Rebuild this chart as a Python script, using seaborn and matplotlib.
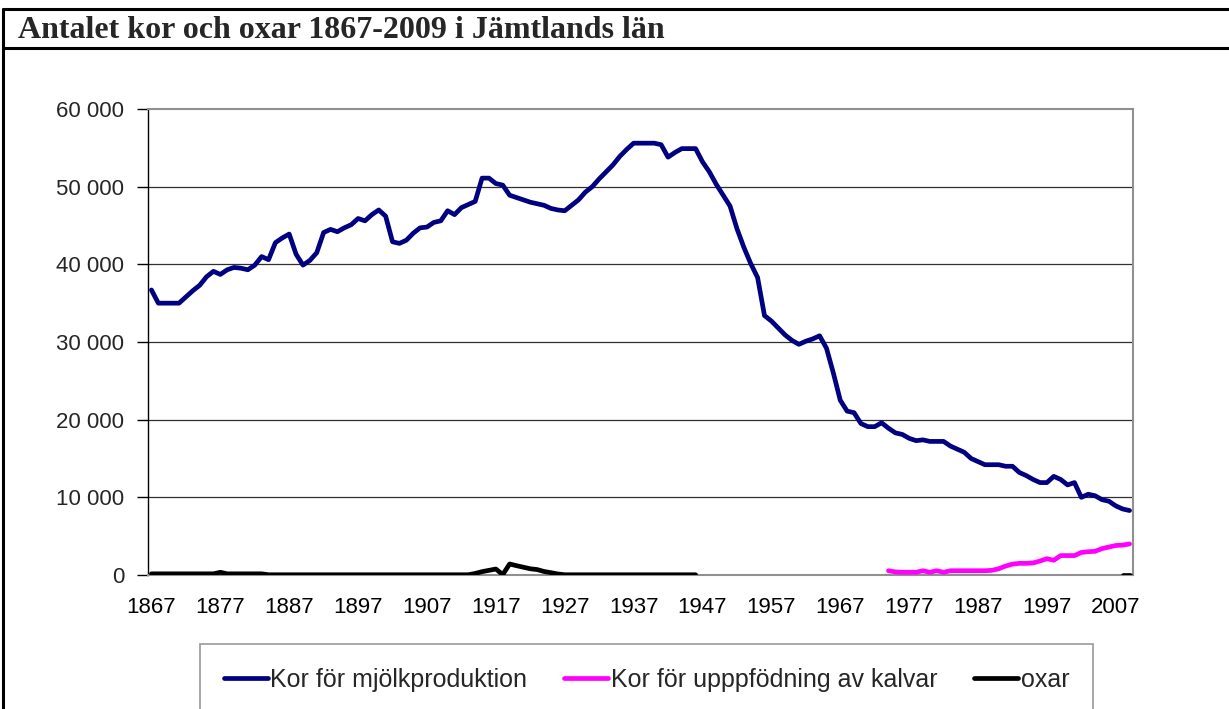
import numpy as np
import pandas as pd
import matplotlib
matplotlib.use("Agg")
import matplotlib.pyplot as plt
from matplotlib.lines import Line2D
from matplotlib.ticker import FuncFormatter
import seaborn as sns

# antal per år, 1867-2009
years = list(range(1867, 2010))

mjolk = [36700, 35000, 35000, 35000, 35000, 35800, 36600, 37300, 38400, 39100,
         38700, 39300, 39600, 39500, 39300, 39900, 41000, 40600, 42800, 43400,
         43900, 41300, 39900, 40500, 41500, 44100, 44500, 44200, 44700, 45100,
         45900, 45600, 46400, 47000, 46200, 42900, 42700, 43100, 44000, 44700,
         44800, 45400, 45600, 46900, 46400, 47300, 47700, 48100, 51100, 51100,
         50400, 50200, 48900, 48600, 48300, 48000, 47800, 47600, 47200, 47000,
         46900, 47600, 48300, 49300, 50000, 51000, 51900, 52800, 53900, 54800,
         55600, 55600, 55600, 55600, 55400, 53800, 54400, 54900, 54900, 54900,
         53200, 51900, 50300, 48900, 47500, 44600, 42200, 40100, 38300, 33400,
         32700, 31800, 30900, 30200, 29700, 30100, 30400, 30800, 29200, 26000,
         22500, 21100, 20900, 19500, 19100, 19100, 19600, 18900, 18300, 18100,
         17600, 17300, 17400, 17200, 17200, 17200, 16600, 16200, 15800, 15000,
         14600, 14200, 14200, 14200, 14000, 14000, 13200, 12800, 12300, 11900,
         11900, 12700, 12300, 11600, 11900, 10000, 10400, 10200, 9700, 9500,
         8900, 8500, 8300]

# kor för uppfödning av kalvar, 1974-2009
kalv_years = list(range(1974, 2010))
kalvar = [550, 400, 350, 350, 350, 550, 350, 550, 350, 550,
          550, 550, 550, 550, 550, 600, 800, 1150, 1400, 1500,
          1500, 1550, 1800, 2100, 1900, 2500, 2500, 2500, 2900, 3000,
          3050, 3400, 3600, 3800, 3850, 4000]

# oxar, 1867-1946 och 2008-2009
oxar_years = list(range(1867, 1947)) + [2008, 2009]
oxar = [150, 150, 150, 150, 150, 150, 150, 150, 150, 150,
        350, 150, 150, 150, 150, 150, 150, 30, 30, 30,
        30, 30, 30, 30, 30, 30, 30, 30, 30, 30,
        30, 30, 30, 30, 30, 30, 30, 30, 30, 30,
        30, 30, 30, 30, 30, 30, 30, 200, 430, 600,
        770, 50, 1420, 1200, 1000, 800, 700, 450, 300, 130,
        30, 30, 30, 30, 30, 30, 30, 30, 30, 30,
        30, 30, 30, 30, 30, 30, 30, 30, 30, 30,
        0, 0]

labels = ["Kor för mjölkproduktion", "Kor för upppfödning av kalvar", "oxar"]
colors = ["#000080", "#FF00FF", "#000000"]

d1 = pd.DataFrame({"year": years, "antal": mjolk, "serie": labels[0], "seg": 0})
d2 = pd.DataFrame({"year": kalv_years, "antal": kalvar, "serie": labels[1], "seg": 1})
d3 = pd.DataFrame({"year": oxar_years, "antal": oxar, "serie": labels[2]})
d3["seg"] = np.where(d3["year"] < 2000, 2, 3)
df = pd.concat([d1, d2, d3], ignore_index=True)

sns.set_style("white")
plt.rcParams["font.family"] = ["Liberation Sans", "DejaVu Sans"]

fig = plt.figure(figsize=(12.29, 7.09), dpi=100)
W, H = 1229, 709
ax = fig.add_axes([148 / W, 1 - 575 / H, (1133 - 148) / W, (575 - 109) / H])

sns.lineplot(data=df, x="year", y="antal", hue="serie", units="seg",
             estimator=None, palette=dict(zip(labels, colors)),
             linewidth=3.4, ax=ax, zorder=3)

ax.set_xlim(1866.5, 2009.5)
ax.set_ylim(0, 60000)
ax.set_xticks(range(1867, 2008, 10))
ax.set_yticks(range(0, 60001, 10000))
ax.yaxis.set_major_formatter(FuncFormatter(lambda v, p: f"{int(v):,}".replace(",", " ")))
ax.set_xlabel("")
ax.set_ylabel("")
ax.tick_params(axis="x", length=0, pad=16, labelsize=16, colors="black")
ax.tick_params(axis="y", length=8, width=1, direction="out", pad=9,
               labelsize=16, color="black", left=True)

ax.grid(axis="y", color="#303030", linewidth=0.9)
glines = ax.get_ygridlines()
glines[0].set_visible(False)
glines[-1].set_visible(False)
for side in ["top", "right", "bottom"]:
    ax.spines[side].set_color("#909090")
    ax.spines[side].set_linewidth(1.5)
ax.spines["left"].set_color("black")
ax.spines["left"].set_linewidth(1)

handles, labs = ax.get_legend_handles_labels()
ax.get_legend().remove()
leg = fig.legend(handles, labs, loc="upper left", ncol=3, mode="expand",
                 bbox_to_anchor=(200 / W, 0, (1093 - 200) / W, 1 - 644 / H),
                 bbox_transform=fig.transFigure, borderaxespad=0,
                 fontsize=18, frameon=True, fancybox=False, borderpad=0.95,
                 handlelength=1.75, handletextpad=0.12, columnspacing=1.0)
leg.get_frame().set_edgecolor("#808080")
leg.get_frame().set_linewidth(1.2)
for h in leg.get_lines():
    h.set_linewidth(3.4)

# ram och rubrik
lw = 2.2
fig.add_artist(Line2D([3 / W, 1], [1 - 9 / H, 1 - 9 / H], color="black", lw=lw))
fig.add_artist(Line2D([3 / W, 1], [1 - 48 / H, 1 - 48 / H], color="black", lw=lw))
fig.add_artist(Line2D([3 / W, 3 / W], [0, 1 - 9 / H], color="black", lw=lw))
fig.text(18 / W, 1 - 31 / H, "Antalet kor och oxar 1867-2009 i Jämtlands län",
         family=["Liberation Serif", "DejaVu Serif"], weight="bold",
         fontsize=23, va="center", ha="left")

fig.savefig("out.png", dpi=100)
